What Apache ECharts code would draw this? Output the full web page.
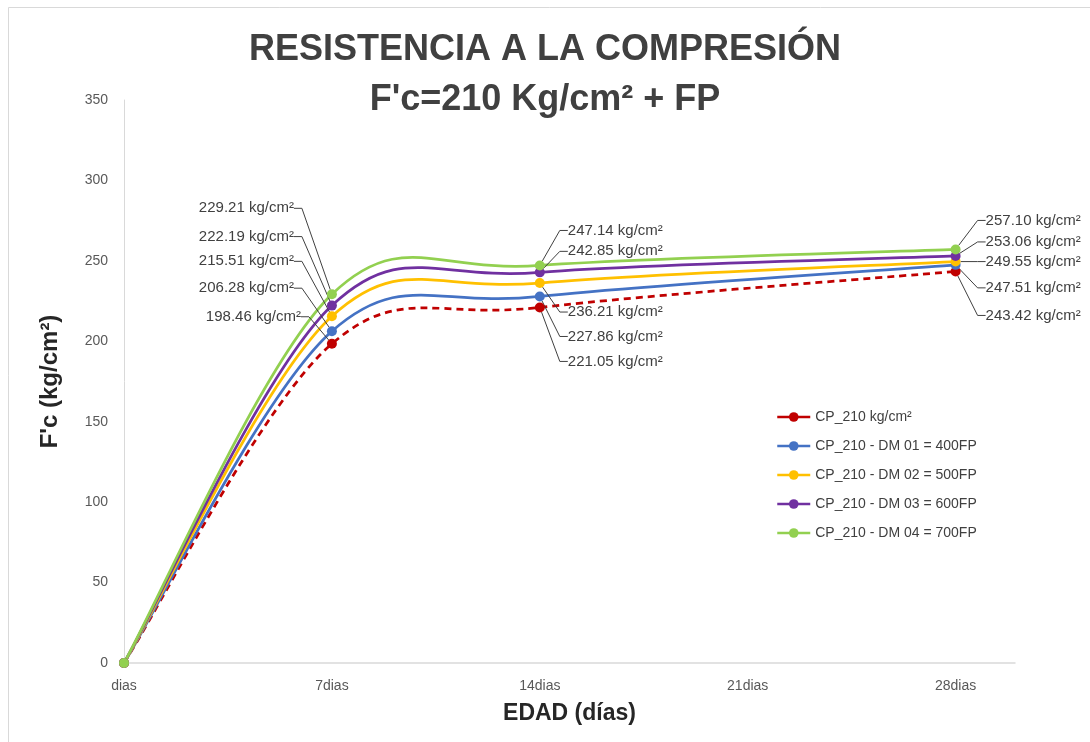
<!DOCTYPE html>
<html>
<head>
<meta charset="utf-8">
<script src="https://cdn.jsdelivr.net/npm/echarts@6/dist/echarts.min.js"></script>
<style>
html,body{margin:0;padding:0;background:#fff;}
#chart{width:1090px;height:742px;}
</style>
</head>
<body>
<div id="chart"></div>
<script>
// ---- data ----
const categories = ['dias', '7dias', '14dias', '21dias', '28dias'];
const ages = [0, 7, 14, 28];
const seriesNames = [
  'CP_210 kg/cm\u00b2',
  'CP_210 - DM 01 = 400FP',
  'CP_210 - DM 02 = 500FP',
  'CP_210 - DM 03 = 600FP',
  'CP_210 - DM 04 = 700FP'
];
const cp210 = [0, 198.46, 221.05, 243.42];
const dm01 = [0, 206.28, 227.86, 247.51];
const dm02 = [0, 215.51, 236.21, 249.55];
const dm03 = [0, 222.19, 242.85, 253.06];
const dm04 = [0, 229.21, 247.14, 257.10];
const yTicks = [0, 50, 100, 150, 200, 250, 300, 350];

// ---- styling / layout ----
const allValues = [cp210, dm01, dm02, dm03, dm04];
const colors = ['#C00000', '#4472C4', '#FFC000', '#7030A0', '#92D050'];
const dashed = [true, false, false, false, false];
// label offsets [dx, dy] per series, per dataIndex (index 0 unlabeled)
const labelShift = [
  [null, [-21, -27], [18, 54], [20, 44]],
  [null, [-28, -43], [18, 40], [20, 23]],
  [null, [-28, -55], [18, 29], [20, 0]],
  [null, [-28, -69], [18, -21], [20, -14]],
  [null, [-28, -86], [18, -35], [20, -29]]
];
const FONT = "'Liberation Sans', Arial, sans-serif";

const chart = echarts.init(document.getElementById('chart'));

function curvePath(pts) {
  // Catmull-Rom style cubic bezier (Excel-like smoothing)
  let d = 'M' + pts[0][0] + ' ' + pts[0][1];
  for (let i = 0; i < pts.length - 1; i++) {
    const p0 = pts[i - 1] || pts[i];
    const p1 = pts[i];
    const p2 = pts[i + 1];
    const p3 = pts[i + 2] || pts[i + 1];
    const c1x = p1[0] + (p2[0] - p0[0]) / 6;
    const c1y = p1[1] + (p2[1] - p0[1]) / 6;
    const c2x = p2[0] - (p3[0] - p1[0]) / 6;
    const c2y = p2[1] - (p3[1] - p1[1]) / 6;
    d += ' C' + c1x + ' ' + c1y + ' ' + c2x + ' ' + c2y + ' ' + p2[0] + ' ' + p2[1];
  }
  return d;
}

const lineSeries = allValues.map(function (vals, s) {
  return {
    name: seriesNames[s],
    type: 'line',
    z: 5,
    symbol: 'circle',
    symbolSize: 10,
    color: colors[s],
    itemStyle: { color: colors[s] },
    lineStyle: { color: colors[s], width: 2.5, opacity: 0 },
    data: ages.map(function (a, i) {
      return {
        value: [a, vals[i]],
        label: i === 0 ? { show: false } : { show: true, position: i === 1 ? 'left' : 'right' }
      };
    }),
    label: {
      show: true,
      fontFamily: FONT,
      fontSize: 15,
      color: '#404040',
      formatter: function (p) { return p.value[1].toFixed(2) + ' kg/cm\u00b2'; }
    },
    labelLine: { show: true, length2: 8, lineStyle: { color: '#404040', width: 1 } },
    labelLayout: function (p) {
      const sh = labelShift[s][p.dataIndex];
      if (!sh) return {};
      return { dx: sh[0], dy: sh[1] };
    },
    emphasis: { disabled: true },
    animation: false
  };
});

const curveSeries = {
  name: 'curves',
  type: 'custom',
  z: 2,
  coordinateSystem: 'cartesian2d',
  data: allValues.map(function (v, s) { return [s]; }),
  renderItem: function (params, api) {
    const s = params.dataIndex;
    const vals = allValues[s];
    const pts = ages.map(function (a, i) { return api.coord([a, vals[i]]); });
    return {
      type: 'path',
      shape: { pathData: curvePath(pts) },
      style: {
        fill: 'none',
        stroke: colors[s],
        lineWidth: 2.75,
        lineDash: dashed[s] ? [7, 5] : null
      }
    };
  },
  silent: true,
  animation: false
};

chart.setOption({
  backgroundColor: '#ffffff',
  animation: false,
  graphic: [{
    type: 'rect',
    shape: { x: 8.5, y: 7.5, width: 1200, height: 900 },
    style: { fill: 'none', stroke: '#d9d9d9', lineWidth: 1 },
    silent: true
  }],
  title: {
    text: 'RESISTENCIA A LA COMPRESI\u00d3N\nF\'c=210 Kg/cm\u00b2 + FP',
    left: 'center',
    top: 20,
    textStyle: {
      fontFamily: FONT,
      fontSize: 36,
      fontWeight: 'bold',
      color: '#404040',
      lineHeight: 50,
      align: 'center'
    }
  },
  legend: {
    orient: 'vertical',
    left: 771,
    top: 405,
    itemWidth: 33,
    itemHeight: 12,
    itemGap: 15,
    data: seriesNames,
    selectedMode: false,
    textStyle: { fontFamily: FONT, fontSize: 14, color: '#404040' },
    lineStyle: { opacity: 1, type: 'solid', width: 2.5 }
  },
  grid: { left: 124, right: 75, top: 100, bottom: 79, containLabel: false },
  xAxis: {
    type: 'value',
    min: 0,
    max: 30,
    interval: 7,
    name: 'EDAD (d\u00edas)',
    nameLocation: 'middle',
    nameGap: 39,
    nameTextStyle: { fontFamily: FONT, fontSize: 23, fontWeight: 'bold', color: '#262626' },
    axisLine: { show: true, lineStyle: { color: '#d9d9d9', width: 1.5 } },
    axisTick: { show: false },
    splitLine: { show: false },
    axisLabel: {
      fontFamily: FONT,
      fontSize: 14,
      color: '#595959',
      margin: 16,
      showMaxLabel: false,
      formatter: function (v) {
        const k = v / 7;
        return Number.isInteger(k) && categories[k] !== undefined ? categories[k] : '';
      }
    }
  },
  yAxis: {
    type: 'value',
    min: yTicks[0],
    max: yTicks[yTicks.length - 1],
    interval: yTicks[1] - yTicks[0],
    name: 'F\'c (kg/cm\u00b2)',
    nameLocation: 'middle',
    nameGap: 62,
    nameTextStyle: { fontFamily: FONT, fontSize: 24, fontWeight: 'bold', color: '#262626' },
    axisLine: { show: true, lineStyle: { color: '#d9d9d9', width: 1 } },
    axisTick: { show: false },
    splitLine: { show: false },
    axisLabel: { fontFamily: FONT, fontSize: 14, color: '#595959', margin: 16 }
  },
  series: [curveSeries].concat(lineSeries)
});
</script>
</body>
</html>
